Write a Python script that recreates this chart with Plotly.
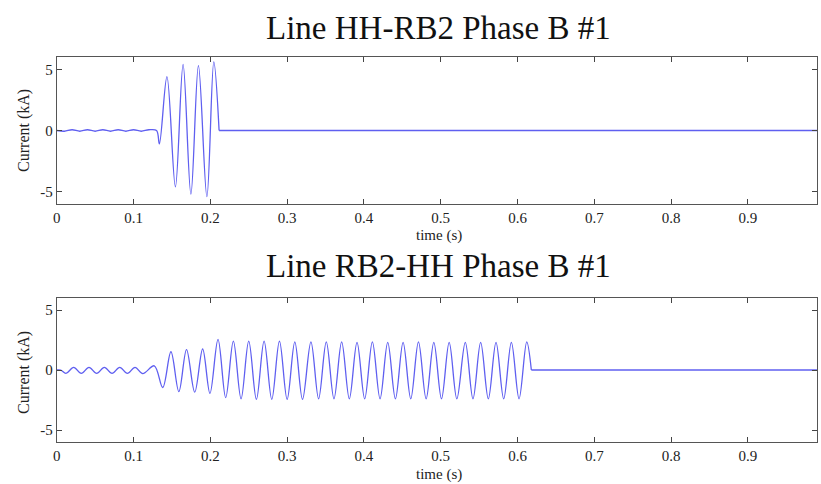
import plotly.graph_objects as go

# ---- data (extrema of the waveforms, kA vs s) ----
top_t = [0.0, 0.01, 0.02, 0.03, 0.04, 0.05, 0.06, 0.07, 0.08, 0.09, 0.10, 0.11, 0.12, 0.13,
         0.1336, 0.1435, 0.1545, 0.1645, 0.1747, 0.1845, 0.1955, 0.2045, 0.2114]
top_i = [0.0, -0.06, 0.06, -0.06, 0.06, -0.06, 0.06, -0.06, 0.06, -0.06, 0.06, -0.06, 0.06, 0.0,
         -1.1, 4.4, -4.6, 5.4, -5.2, 5.3, -5.4, 5.6, 0.0]
top_clear = [0.2114, 0.99]
top_clear_i = [0.0, 0.0]

bot_t = [0.0, 0.005, 0.012, 0.022, 0.032, 0.042, 0.052, 0.062, 0.072, 0.082, 0.092, 0.102,
         0.112, 0.127, 0.138, 0.1487, 0.159, 0.169, 0.1797, 0.19, 0.1995,
         0.210, 0.220, 0.230, 0.240, 0.250, 0.260, 0.270, 0.280, 0.290, 0.300,
         0.310, 0.320, 0.331, 0.341, 0.351, 0.361, 0.371, 0.381, 0.391, 0.401,
         0.411, 0.421, 0.431, 0.441, 0.451, 0.461, 0.471, 0.481, 0.491, 0.501,
         0.511, 0.521, 0.532, 0.542, 0.552, 0.562, 0.572, 0.582, 0.592, 0.602,
         0.612, 0.618]
bot_i = [0.0, 0.0, -0.28, 0.22, -0.28, 0.22, -0.28, 0.22, -0.28, 0.22, -0.28, 0.22,
         -0.3, 0.35, -1.46, 1.52, -1.8, 1.7, -1.85, 1.75, -1.95,
         2.55, -2.3, 2.4, -2.4, 2.4, -2.45, 2.4, -2.45, 2.4, -2.45,
         2.35, -2.45, 2.35, -2.4, 2.35, -2.4, 2.35, -2.4, 2.3, -2.4,
         2.35, -2.4, 2.3, -2.4, 2.3, -2.4, 2.35, -2.4, 2.3, -2.4,
         2.3, -2.4, 2.3, -2.4, 2.3, -2.4, 2.3, -2.4, 2.3, -2.4,
         2.35, 0.0]
bot_clear = [0.618, 0.99]
bot_clear_i = [0.0, 0.0]

titles = ["Line HH-RB2 Phase B #1", "Line RB2-HH Phase B #1"]
x_ticks = [0, 0.1, 0.2, 0.3, 0.4, 0.5, 0.6, 0.7, 0.8, 0.9]
x_tick_text = ["0", "0.1", "0.2", "0.3", "0.4", "0.5", "0.6", "0.7", "0.8", "0.9"]
y_ticks = [-5, 0, 5]
y_tick_text = ["-5", "0", "5"]

# ---- figure ----
W, H = 821, 484
LINE = "rgb(95,95,240)"
FONT = "Liberation Serif, Times New Roman, serif"

fig = go.Figure()
fig.add_trace(go.Scatter(x=top_t, y=top_i, mode="lines", line=dict(color=LINE, width=1.3, shape="spline"),
                         xaxis="x", yaxis="y", showlegend=False))
fig.add_trace(go.Scatter(x=top_clear, y=top_clear_i, mode="lines", line=dict(color=LINE, width=1.3),
                         xaxis="x", yaxis="y", showlegend=False))
fig.add_trace(go.Scatter(x=bot_t, y=bot_i, mode="lines", line=dict(color=LINE, width=1.3, shape="spline"),
                         xaxis="x2", yaxis="y2", showlegend=False))
fig.add_trace(go.Scatter(x=bot_clear, y=bot_clear_i, mode="lines", line=dict(color=LINE, width=1.3),
                         xaxis="x2", yaxis="y2", showlegend=False))


def py(p):
    return 1 - p / H


def xaxis_cfg(anchor):
    return dict(domain=[53 / W, 817 / W], range=[0, 0.99], anchor=anchor,
                tickmode="array", tickvals=x_ticks, ticktext=x_tick_text,
                ticks="inside", ticklen=5, tickcolor="#444", tickwidth=1,
                showline=True, linecolor="#555", linewidth=1, mirror="ticks",
                showgrid=False, zeroline=False,
                tickfont=dict(family=FONT, size=15, color="#222"))


def yaxis_cfg(anchor, dom):
    return dict(domain=dom, range=[-6, 6], anchor=anchor,
                tickmode="array", tickvals=y_ticks, ticktext=y_tick_text,
                ticks="inside", ticklen=5, tickcolor="#444", tickwidth=1,
                showline=True, linecolor="#555", linewidth=1, mirror="ticks",
                showgrid=False, zeroline=False,
                tickfont=dict(family=FONT, size=15, color="#222"))


annotations = []
for title, ty, xl_y, yl_y in [(titles[0], 28, 236, 130), (titles[1], 266, 474, 372)]:
    annotations.append(dict(text=title, x=437 / W, y=py(ty), xref="paper", yref="paper",
                            showarrow=False, xanchor="center", yanchor="middle",
                            font=dict(family=FONT, size=33, color="#111")))
    annotations.append(dict(text="time (s)", x=437 / W, y=py(xl_y), xref="paper", yref="paper",
                            showarrow=False, xanchor="center", yanchor="middle",
                            font=dict(family=FONT, size=15, color="#222")))
    annotations.append(dict(text="Current (kA)", x=20 / W, y=py(yl_y), xref="paper", yref="paper",
                            showarrow=False, xanchor="center", yanchor="middle", textangle=-90,
                            font=dict(family=FONT, size=16, color="#222")))

fig.update_layout(
    width=W, height=H,
    margin=dict(l=0, r=0, t=0, b=0),
    paper_bgcolor="white", plot_bgcolor="white",
    xaxis=xaxis_cfg("y"),
    yaxis=yaxis_cfg("x", [py(204), py(57)]),
    xaxis2=xaxis_cfg("y2"),
    yaxis2=yaxis_cfg("x2", [py(442), py(298)]),
    annotations=annotations,
)

fig.write_html("out.html")
